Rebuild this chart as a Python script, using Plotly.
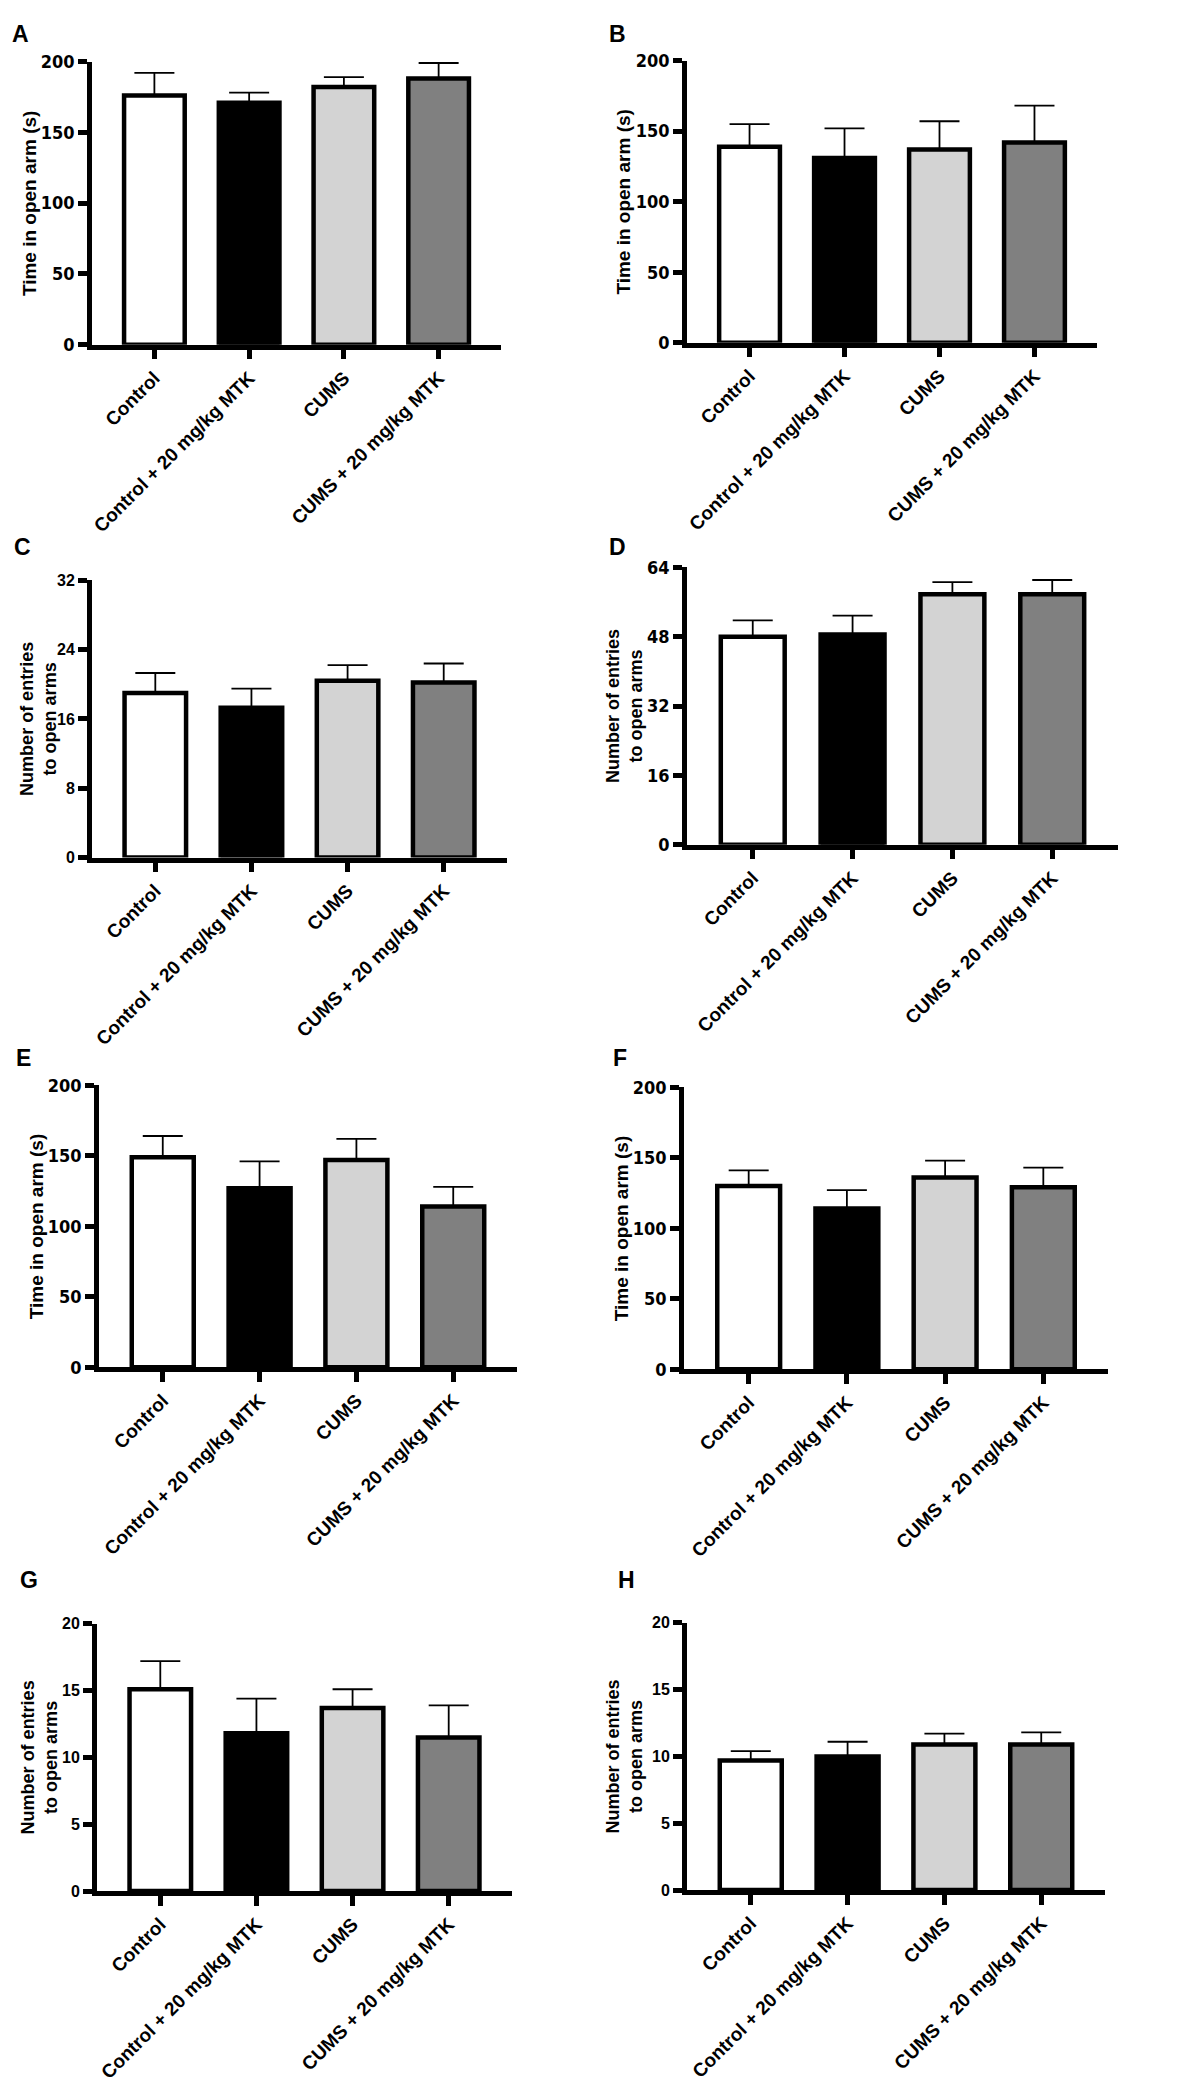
import plotly.graph_objects as go

# groups and bar colours
groups = ["Control", "Control + 20 mg/kg MTK", "CUMS", "CUMS + 20 mg/kg MTK"]
bar_colors = ["white", "black", "#d3d3d3", "#808080"]

# mean and error (upper) per panel
a_mean = [176, 171, 182, 188]
a_err = [16, 7, 7, 11]
b_mean = [139, 131, 137, 142]
b_err = [16, 21, 20, 26]
c_mean = [19.0, 17.3, 20.4, 20.2]
c_err = [2.3, 2.2, 1.8, 2.2]
d_mean = [48.0, 48.5, 57.8, 57.8]
d_err = [3.8, 4.4, 2.8, 3.3]
e_mean = [149, 127, 147, 114]
e_err = [15, 19, 15, 14]
f_mean = [130, 114, 136, 129]
f_err = [11, 13, 12, 14]
g_mean = [15.1, 11.8, 13.7, 11.5]
g_err = [2.1, 2.6, 1.4, 2.4]
h_mean = [9.7, 10.0, 10.9, 10.9]
h_err = [0.7, 1.1, 0.8, 0.9]

time_title = "Time in open arm (s)"
entries_title = "Number of entries<br>to open arms"

panels = [
    ("A", a_mean, a_err, 200, 50, time_title),
    ("B", b_mean, b_err, 200, 50, time_title),
    ("C", c_mean, c_err, 32, 8, entries_title),
    ("D", d_mean, d_err, 64, 16, entries_title),
    ("E", e_mean, e_err, 200, 50, time_title),
    ("F", f_mean, f_err, 200, 50, time_title),
    ("G", g_mean, g_err, 20, 5, entries_title),
    ("H", h_mean, h_err, 20, 5, entries_title),
]
# panels whose tick numbers are condensed bold
narrow = {"A", "B", "D", "E", "F"}

W, H = 1183, 2099
# pixel boxes of each plot area: left, right, top, bottom
boxes = [
    (82, 492, 43, 329), (678, 1089, 42, 327),
    (82, 498, 567, 847), (678, 1110, 554, 834),
    (89, 508, 1077, 1362), (675, 1100, 1079, 1364),
    (87, 503, 1621, 1891), (678, 1097, 1620, 1890),
]
letter_pos = [(0, 15), (598, 15), (2, 533), (598, 533),
              (4, 1050), (602, 1050), (8, 1577), (607, 1577)]

fig = go.Figure()
layout = {}
annotations = []

for i, (letter, mean, err, ymax, dtick, ytitle) in enumerate(panels):
    n = "" if i == 0 else str(i + 1)
    xa, ya = "x" + n, "y" + n
    left, right, top, bottom = boxes[i]

    fig.add_trace(go.Bar(
        x=groups, y=mean, width=0.64,
        marker=dict(color=bar_colors, line=dict(color="black", width=4.5)),
        error_y=dict(type="data", array=err, arrayminus=[0] * len(err), symmetric=False,
                     color="black", thickness=1.8, width=20),
        xaxis=xa, yaxis=ya, showlegend=False))

    x0, x1 = left / W, right / W
    y0, y1 = 1 - bottom / H, 1 - top / H

    layout["xaxis" + n] = dict(
        domain=[x0, x1], anchor=ya, type="category", range=[-0.66, 3.66],
        showline=True, linecolor="black", linewidth=4.5,
        ticks="outside", ticklen=10, tickwidth=4.5, tickcolor="black",
        tickangle=-45, showgrid=False,
        tickfont=dict(family="Liberation Sans, Arial", size=19, color="black", weight="bold"))

    if letter in narrow:
        tf = dict(family="Liberation Sans Narrow, Arial Narrow, DejaVu Sans Condensed, Liberation Sans",
                  size=18, color="black", weight="bold")
    else:
        tf = dict(family="Liberation Sans, Arial", size=16, color="black", weight="bold")
    layout["yaxis" + n] = dict(
        domain=[y0, y1], anchor=xa, range=[0, ymax], tick0=0, dtick=dtick,
        showline=True, linecolor="black", linewidth=4.5,
        ticks="outside", ticklen=9, tickwidth=4.5, tickcolor="black",
        showgrid=False, zeroline=False, tickfont=tf)

    # panel letter
    lx, ly = letter_pos[i]
    annotations.append(dict(
        text="<b>" + letter + "</b>", x=lx / W, y=1 - ly / H,
        xref="paper", yref="paper", xanchor="left", yanchor="middle", showarrow=False,
        font=dict(family="Liberation Sans, Arial", size=23, color="black")))
    # y title, kept inside the page for the left column
    if ytitle == time_title:
        tx, tsize = left - 63, 19
    else:
        tx, tsize = max(left - 63, 29), 18
    annotations.append(dict(
        text="<b>" + ytitle + "</b>", x=tx / W, y=(y0 + y1) / 2,
        xref="paper", yref="paper", xanchor="center", yanchor="middle", showarrow=False,
        textangle=-90,
        font=dict(family="Liberation Sans, Arial", size=tsize, color="black")))

fig.update_layout(**layout)
fig.update_layout(
    width=W, height=H,
    margin=dict(l=0, r=0, t=0, b=0),
    paper_bgcolor="white", plot_bgcolor="white",
    annotations=annotations,
    showlegend=False)

fig.write_html("out.html")
